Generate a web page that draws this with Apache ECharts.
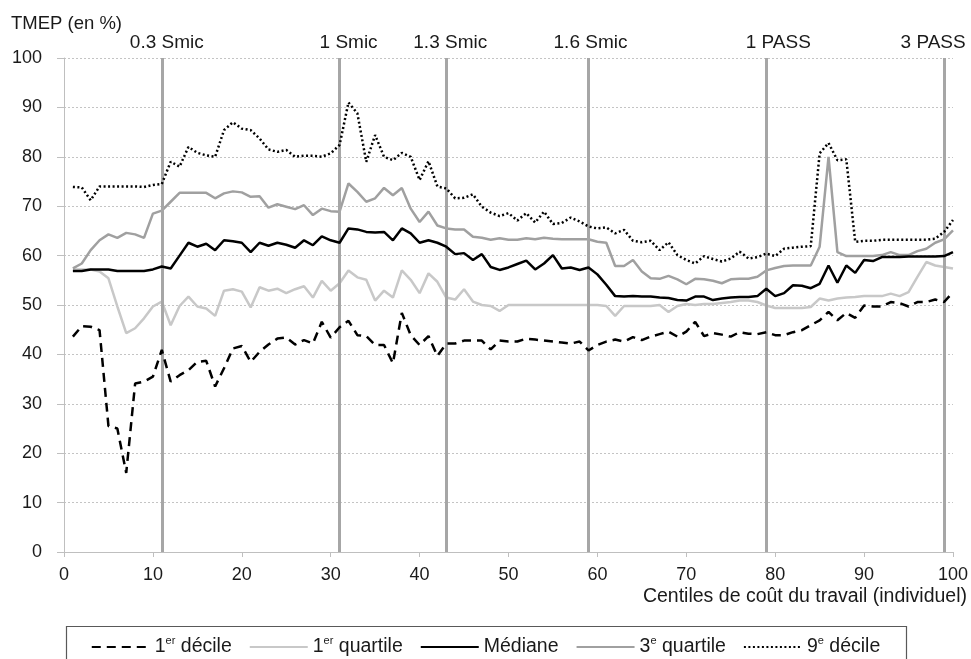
<!DOCTYPE html>
<html>
<head>
<meta charset="utf-8">
<script src="https://cdn.jsdelivr.net/npm/echarts@6/dist/echarts.min.js"></script>
<style>
html,body{margin:0;padding:0;background:#fff;}
#chart{width:971px;height:659px;}
</style>
</head>
<body>
<div id="chart"></div>
<script>
var centiles = [1,2,3,4,5,6,7,8,9,10,11,12,13,14,15,16,17,18,19,20,21,22,23,24,25,26,27,28,29,30,31,32,33,34,35,36,37,38,39,40,41,42,43,44,45,46,47,48,49,50,51,52,53,54,55,56,57,58,59,60,61,62,63,64,65,66,67,68,69,70,71,72,73,74,75,76,77,78,79,80,81,82,83,84,85,86,87,88,89,90,91,92,93,94,95,96,97,98,99,100];

var decile1 = [43.6,45.7,45.6,44.9,25.5,25,16,34.1,34.5,35.5,40.9,34.5,35.8,36.8,38.5,38.7,33.5,37.2,41.2,41.7,38.5,40.5,42,43.2,43.4,42,42.9,42.2,46.6,43.4,45.5,46.8,43.9,43.7,41.9,41.9,38.2,48.4,43.9,41.9,43.7,39.7,42.2,42.2,42.8,42.8,42.8,41,42.8,42.6,42.6,43.2,43,42.8,42.6,42.4,42.2,42.6,40.8,41.9,42.6,43,42.6,43.5,42.9,43.6,44.1,44.6,43.6,44.6,46.6,43.7,44.3,44,43.6,44.5,44.2,44.1,44.5,43.9,43.9,44.5,44.9,45.9,46.9,48.6,46.9,48.4,47.4,49.9,49.7,49.7,50.6,50.4,49.7,50.6,50.6,51.1,50.6,52.6];

var quartile1 = [57.2,57.2,57.2,56.8,55.4,49.7,44.3,45.3,47.3,49.7,50.7,45.9,49.8,51.7,49.7,49.3,47.8,52.9,53.2,52.7,49.5,53.6,52.9,53.3,52.4,53.2,53.8,51.5,54.9,52.9,54.4,57,55.6,55.1,50.9,52.9,51.5,57,55.1,52.4,56.4,54.7,51.5,51.1,53.2,50.7,50,49.8,48.8,50,50,50,50,50,50,50,50,50,50,50,49.8,47.8,49.8,49.8,49.8,49.8,50,48.6,49.8,50.2,50,50.2,50.2,50.4,50.6,50.9,50.9,50.6,49.9,49.4,49.4,49.4,49.4,49.6,51.3,50.9,51.3,51.5,51.6,51.8,51.8,51.8,52.3,51.8,52.6,55.7,58.7,58,57.7,57.4];

var mediane = [56.9,56.9,57.2,57.2,57.2,56.9,56.9,56.9,56.9,57.2,57.8,57.4,60,62.6,61.8,62.4,61.1,63.1,62.9,62.6,60.7,62.6,62,62.6,62.2,61.6,63.1,62.1,63.9,63.1,62.6,65.5,65.3,64.8,64.7,64.8,63.1,65.5,64.5,62.6,63.1,62.6,61.8,60.3,60.5,59.1,60.3,57.7,57.1,57.6,58.3,59,57.2,58.4,60.1,57.4,57.6,57.1,57.6,56.2,54.1,51.8,51.7,51.8,51.7,51.7,51.5,51.4,51,50.9,51.7,51.7,51,51.3,51.5,51.6,51.6,51.8,53.3,51.8,52.4,54,53.9,53.4,54.3,58,54.5,58,56.5,59.1,58.9,59.7,59.7,59.7,59.8,59.8,59.8,59.8,59.9,60.7];

var quartile3 = [57.4,58.4,61.1,63.1,64.3,63.6,64.6,64.3,63.6,68.5,69.1,70.9,72.7,72.7,72.7,72.7,71.6,72.6,73,72.8,71.9,72,69.7,70.4,69.9,69.4,70.2,68.2,69.5,69,68.9,74.6,72.9,70.9,71.6,73.7,72.2,73.7,69.5,66.8,68.9,66.1,65.5,65.3,65.3,63.8,63.6,63.2,63.5,63.2,63.2,63.5,63.3,63.6,63.4,63.3,63.3,63.3,63.3,62.8,62.6,57.9,57.9,59.1,56.8,55.4,55.3,55.9,55.2,54.2,55.3,55.2,54.9,54.4,55.2,55.3,55.3,55.7,57,57.5,57.9,58,58,58,61.8,80,60.7,59.9,59.9,59.9,59.9,60.1,60.7,60.1,60.1,60.9,61.4,62.6,63.3,65.1];

var decile9 = [73.9,73.8,71.2,74,74,74,74,74,73.9,74.3,74.5,79,78,82,80.8,80.3,80,85.4,87,85.7,85.4,83.7,81.5,81,81.4,80,80.2,80.2,80,80.7,82.4,91,88.8,79,84.4,80,79.3,80.8,80,75.3,79.1,74,73.6,71.6,71.7,72.4,69.9,68.7,68,68.6,67.1,68.6,66.7,68.9,66.4,66.6,67.7,66.9,65.9,65.5,65.7,64.5,65.2,63,62.7,63,61.1,62.7,60.1,59.1,58.4,59.9,59.3,58.8,59.4,60.8,59.4,59.7,60.4,59.9,61.4,61.6,61.8,61.9,80.7,82.8,79.3,79.5,62.8,63,63,63.2,63.2,63.2,63.2,63.2,63.2,63.4,64.8,67.2];

var refPositions = [11, 31, 43, 59, 79, 99];
var refLabels = ['0.3 Smic', '1 Smic', '1.3 Smic', '1.6 Smic', '1 PASS', '3 PASS'];
var seriesNames = ['1er décile', '1er quartile', 'Médiane', '3e quartile', '9e décile'];

function pairs(arr) {
  return centiles.map(function (c, i) { return [c, arr[i]]; });
}

var FONT = '"Liberation Sans", Arial, Helvetica, sans-serif';
var TXT = '#1a1a1a';
var labelShift = [5, 9, 4, 2, 12, -11];

var chart = echarts.init(document.getElementById('chart'), null, {renderer: 'canvas'});

var refData = refPositions.map(function (x, i) {
  return {xAxis: x, label: {formatter: refLabels[i], offset: [labelShift[i], 0]}};
});

var lineBase = {
  type: 'line',
  showSymbol: false,
  symbol: 'none',
  animation: false,
  silent: true
};

var option = {
  animation: false,
  backgroundColor: '#ffffff',
  title: {
    text: 'TMEP (en %)',
    left: 11,
    top: 14,
    padding: 0,
    textStyle: {fontFamily: FONT, fontSize: 18.5, fontWeight: 'normal', color: TXT}
  },
  grid: {left: 64, right: 18, top: 58, bottom: 107, containLabel: false},
  xAxis: {
    type: 'value',
    min: 0, max: 100, interval: 10,
    axisLine: {show: true, lineStyle: {color: '#bfbfbf', width: 1}},
    axisTick: {show: true, length: 5, lineStyle: {color: '#bfbfbf'}},
    axisLabel: {fontFamily: FONT, fontSize: 18, color: TXT, margin: 14},
    splitLine: {show: false}
  },
  yAxis: {
    type: 'value',
    min: 0, max: 100, interval: 10,
    axisLine: {show: true, lineStyle: {color: '#bfbfbf', width: 1}},
    axisTick: {show: true, length: 7, lineStyle: {color: '#bfbfbf'}},
    axisLabel: {fontFamily: FONT, fontSize: 18, color: TXT, margin: 22},
    splitLine: {show: true, lineStyle: {color: '#c4c4c4', type: [2, 2], width: 1}}
  },
  legend: {
    show: true,
    left: 'center',
    top: 630,
    itemWidth: 58,
    itemHeight: 14,
    itemGap: 17,
    data: seriesNames,
    itemStyle: {opacity: 0},
    formatter: function (name) {
      return name.replace(/^(\d)(er|e) /, '$1{s|$2} ');
    },
    textStyle: {
      fontFamily: FONT, fontSize: 19.5, color: TXT, lineHeight: 24,
      rich: {s: {fontFamily: FONT, fontSize: 11, color: TXT, verticalAlign: 'top', lineHeight: 24, padding: [0, 0, 9, 0]}}
    }
  },
  graphic: [
    {
      type: 'rect',
      left: 64, top: 624,
      shape: {width: 840, height: 60},
      style: {fill: 'none', stroke: '#595959', lineWidth: 1.2},
      silent: true
    },
    {
      type: 'text',
      right: 4, top: 587,
      style: {text: 'Centiles de coût du travail (individuel)', font: '19.5px ' + FONT, fill: TXT},
      silent: true
    }
  ],
  series: [
    Object.assign({}, lineBase, {
      name: seriesNames[0],
      data: pairs(decile1),
      z: 5,
      lineStyle: {color: '#000000', width: 2.5, type: [9, 6]},
      itemStyle: {color: '#000000'},
      markLine: {
        silent: true,
        symbol: ['none', 'none'],
        animation: false,
        lineStyle: {color: '#a6a6a6', width: 3, type: 'solid'},
        label: {show: true, position: 'end', distance: 6, fontFamily: FONT, fontSize: 19, color: TXT},
        emphasis: {disabled: true},
        data: refData
      }
    }),
    Object.assign({}, lineBase, {
      name: seriesNames[1],
      data: pairs(quartile1),
      z: 3,
      lineStyle: {color: '#c8c8c8', width: 2.5, type: 'solid'},
      itemStyle: {color: '#c8c8c8'}
    }),
    Object.assign({}, lineBase, {
      name: seriesNames[2],
      data: pairs(mediane),
      z: 5,
      lineStyle: {color: '#000000', width: 2.5, type: 'solid'},
      itemStyle: {color: '#000000'}
    }),
    Object.assign({}, lineBase, {
      name: seriesNames[3],
      data: pairs(quartile3),
      z: 4,
      lineStyle: {color: '#a0a0a0', width: 2.5, type: 'solid'},
      itemStyle: {color: '#a0a0a0'}
    }),
    Object.assign({}, lineBase, {
      name: seriesNames[4],
      data: pairs(decile9),
      z: 5,
      lineStyle: {color: '#000000', width: 2.5, type: [2, 2.5]},
      itemStyle: {color: '#000000'}
    })
  ]
};

chart.setOption(option);
</script>
</body>
</html>
